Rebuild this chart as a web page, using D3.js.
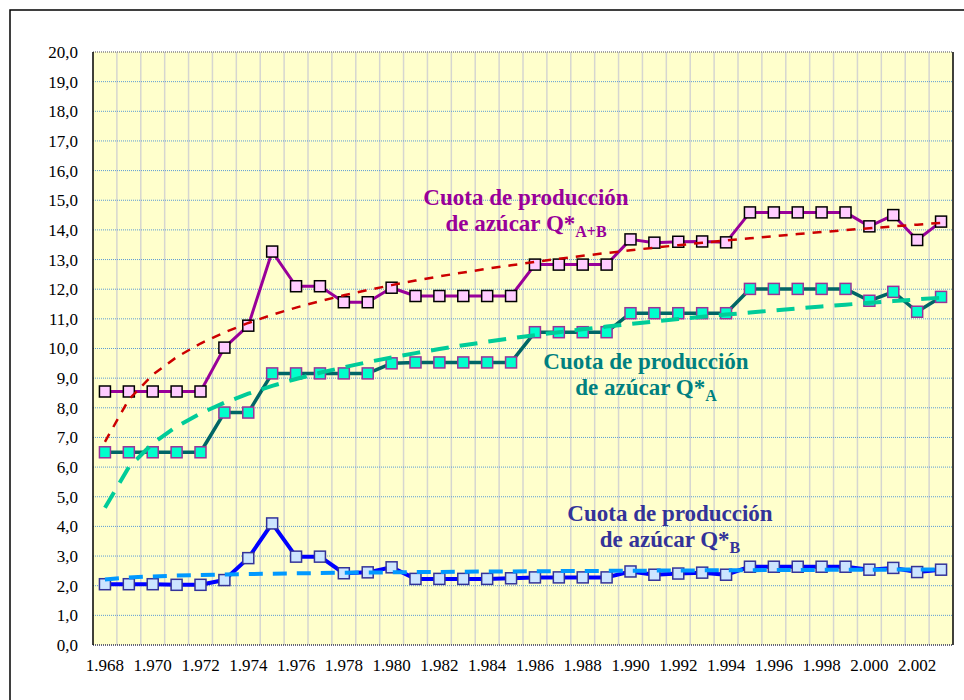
<!DOCTYPE html>
<html>
<head>
<meta charset="utf-8">
<script src="https://cdn.jsdelivr.net/npm/d3@7"></script>
<style>
  body { margin: 0; background: #fff; }
  svg { display: block; }
  svg text { font-family: "Liberation Serif", "Times New Roman", serif; }
</style>
</head>
<body>
<div class="chart"></div>
<script>
var svgWidth = 964;
var svgHeight = 700;

var margin = { top: 52, right: 11, bottom: 55, left: 93 };
var width = svgWidth - margin.left - margin.right;
var height = svgHeight - margin.top - margin.bottom;

// Data
var years = d3.range(1968, 2004);
var quotaAB = [8.55, 8.55, 8.55, 8.55, 8.55, 10.03, 10.77, 13.27, 12.10, 12.10,
  11.56, 11.56, 12.05, 11.77, 11.77, 11.77, 11.77, 11.77, 12.83, 12.83,
  12.83, 12.83, 13.68, 13.57, 13.60, 13.61, 13.58, 14.59, 14.59, 14.59,
  14.59, 14.59, 14.12, 14.50, 13.66, 14.28];
var quotaA = [6.50, 6.50, 6.50, 6.50, 6.50, 7.84, 7.84, 9.16, 9.16, 9.16,
  9.16, 9.16, 9.50, 9.53, 9.53, 9.53, 9.53, 9.53, 10.55, 10.55,
  10.55, 10.55, 11.19, 11.19, 11.19, 11.19, 11.19, 12.01, 12.01, 12.01,
  12.01, 12.01, 11.61, 11.91, 11.24, 11.74];
var quotaB = [2.05, 2.05, 2.05, 2.03, 2.03, 2.19, 2.93, 4.10, 2.98, 2.98,
  2.42, 2.45, 2.62, 2.23, 2.23, 2.23, 2.23, 2.25, 2.28, 2.28,
  2.28, 2.28, 2.48, 2.37, 2.41, 2.44, 2.37, 2.64, 2.64, 2.64,
  2.64, 2.64, 2.54, 2.60, 2.46, 2.54];
var yTicks = d3.range(0, 21);
var xTickYears = years.filter(function(d, i) { return i % 2 === 0; });

var locale = d3.formatLocale({ decimal: ",", thousands: ".", grouping: [3], currency: ["", ""] });
var fmtY = locale.format(",.1f");
var fmtX = locale.format(",d");

var serif = "'Liberation Serif', 'Times New Roman', serif";

// logarithmic trend line, like the spreadsheet one (y = a + b ln x, x = 1..n)
function logTrend(values) {
  var xs = values.map(function(d, i) { return Math.log(i + 1); });
  var mx = d3.mean(xs), my = d3.mean(values);
  var sxy = d3.sum(xs, function(x, i) { return (x - mx) * (values[i] - my); });
  var sxx = d3.sum(xs, function(x) { return (x - mx) * (x - mx); });
  var b = sxy / sxx, a = my - b * mx;
  return xs.map(function(x) { return a + b * x; });
}

var svg = d3.select(".chart")
  .append("svg")
  .attr("width", svgWidth)
  .attr("height", svgHeight);

// outer frame
svg.append("rect")
  .attr("x", 10).attr("y", 10)
  .attr("width", 980).attr("height", 720)
  .attr("fill", "#fff")
  .attr("stroke", "#000")
  .attr("stroke-width", 1.5);

var chartGroup = svg.append("g")
  .attr("transform", `translate(${margin.left}, ${margin.top})`);

var xBand = d3.scaleBand().domain(years).range([0, width]).padding(0);
var yLinearScale = d3.scaleLinear().domain([0, 20]).range([height, 0]);
var xc = function(d) { return xBand(d) + xBand.bandwidth() / 2; };

// plot background
chartGroup.append("rect")
  .attr("width", width).attr("height", height)
  .attr("fill", "#FFFFCC");

// vertical grid at category boundaries
chartGroup.selectAll(".vgrid")
  .data(years.slice(1))
  .enter()
  .append("line")
  .attr("class", "vgrid")
  .attr("x1", d => xBand(d)).attr("x2", d => xBand(d))
  .attr("y1", 0).attr("y2", height)
  .attr("stroke", "#d6d6d0")
  .attr("stroke-width", 1.5);

// horizontal dotted grid
chartGroup.selectAll(".hgrid")
  .data(yTicks.filter(d => d > 0 && d < 20))
  .enter()
  .append("line")
  .attr("class", "hgrid")
  .attr("x1", 0).attr("x2", width)
  .attr("y1", d => yLinearScale(d)).attr("y2", d => yLinearScale(d))
  .attr("stroke", "#5b9bd5")
  .attr("stroke-width", 1)
  .attr("stroke-dasharray", "1,1");

// plot border
chartGroup.append("line").attr("x1", 0).attr("x2", width).attr("y1", 0).attr("y2", 0)
  .attr("stroke", "#888").attr("stroke-width", 1.5).attr("stroke-dasharray", "1,1");
chartGroup.append("line").attr("x1", 0).attr("x2", width).attr("y1", height).attr("y2", height)
  .attr("stroke", "#335").attr("stroke-width", 1.5).attr("stroke-dasharray", "1,1");
chartGroup.append("line").attr("x1", 0).attr("x2", 0).attr("y1", 0).attr("y2", height)
  .attr("stroke", "#000").attr("stroke-width", 1.5);
chartGroup.append("line").attr("x1", width).attr("x2", width).attr("y1", 0).attr("y2", height)
  .attr("stroke", "#000").attr("stroke-width", 1.5);

// axes
var leftAxis = d3.axisLeft(yLinearScale).tickValues(yTicks).tickFormat(fmtY).tickSize(0).tickPadding(15);
var bottomAxis = d3.axisBottom(xBand).tickValues(xTickYears).tickFormat(fmtX).tickSize(0).tickPadding(14);

var gy = chartGroup.append("g").call(leftAxis);
var gx = chartGroup.append("g").attr("transform", `translate(0, ${height})`).call(bottomAxis);
[gx, gy].forEach(function(g) {
  g.attr("font-family", null);
  g.select(".domain").remove();
  g.selectAll("text")
    .style("font-family", serif)
    .style("font-size", "17px")
    .attr("fill", "#000");
});

// series
var series = [
  { values: quotaAB, trend: logTrend(quotaAB), line: "#990099", lw: 3, fill: "#FFCCFF", mstroke: "#000",
    trendColor: "#CC0000", trendWidth: 2.5, dash: "9,8" },
  { values: quotaA, trend: logTrend(quotaA), line: "#006666", lw: 3.5, fill: "#00FFCC", mstroke: "#993399",
    trendColor: "#00CC99", trendWidth: 4, dash: "18,11" },
  { values: quotaB, trend: logTrend(quotaB), line: "#0000FF", lw: 4, fill: "#CCE5FF", mstroke: "#333399",
    trendColor: "#0099FF", trendWidth: 4, dash: "14,10" }
];

var lineGen = d3.line()
  .x((d, i) => xc(years[i]))
  .y(d => yLinearScale(d));

series.forEach(function(s) {
  chartGroup.append("path")
    .attr("d", lineGen(s.values))
    .attr("fill", "none")
    .attr("stroke", s.line)
    .attr("stroke-width", s.lw)
    .attr("stroke-linejoin", "round");

  chartGroup.selectAll(null)
    .data(s.values)
    .enter()
    .append("rect")
    .attr("x", (d, i) => xc(years[i]) - 5.5)
    .attr("y", d => yLinearScale(d) - 5.5)
    .attr("width", 11)
    .attr("height", 11)
    .attr("fill", s.fill)
    .attr("stroke", s.mstroke)
    .attr("stroke-width", 1.5);
});

// trend lines on top
series.forEach(function(s) {
  chartGroup.append("path")
    .attr("d", lineGen(s.trend))
    .attr("fill", "none")
    .attr("stroke", s.trendColor)
    .attr("stroke-width", s.trendWidth)
    .attr("stroke-dasharray", s.dash);
});

// labels
var labels = [
  { x: 526, y: 205, color: "#990099", sub: "A+B" },
  { x: 646, y: 369, color: "#008080", sub: "A" },
  { x: 670, y: 521, color: "#333399", sub: "B" }
];
labels.forEach(function(l) {
  var t = svg.append("text")
    .attr("x", l.x).attr("y", l.y)
    .attr("text-anchor", "middle")
    .style("font-family", serif)
    .style("font-weight", "bold")
    .style("font-size", "23px")
    .attr("fill", l.color);
  t.append("tspan").attr("x", l.x).text("Cuota de producción");
  var t2 = t.append("tspan").attr("x", l.x).attr("dy", 26);
  t2.append("tspan").text("de azúcar Q*");
  t2.append("tspan").attr("dy", 6).style("font-size", "16px").text(l.sub);
});
</script>
</body>
</html>
